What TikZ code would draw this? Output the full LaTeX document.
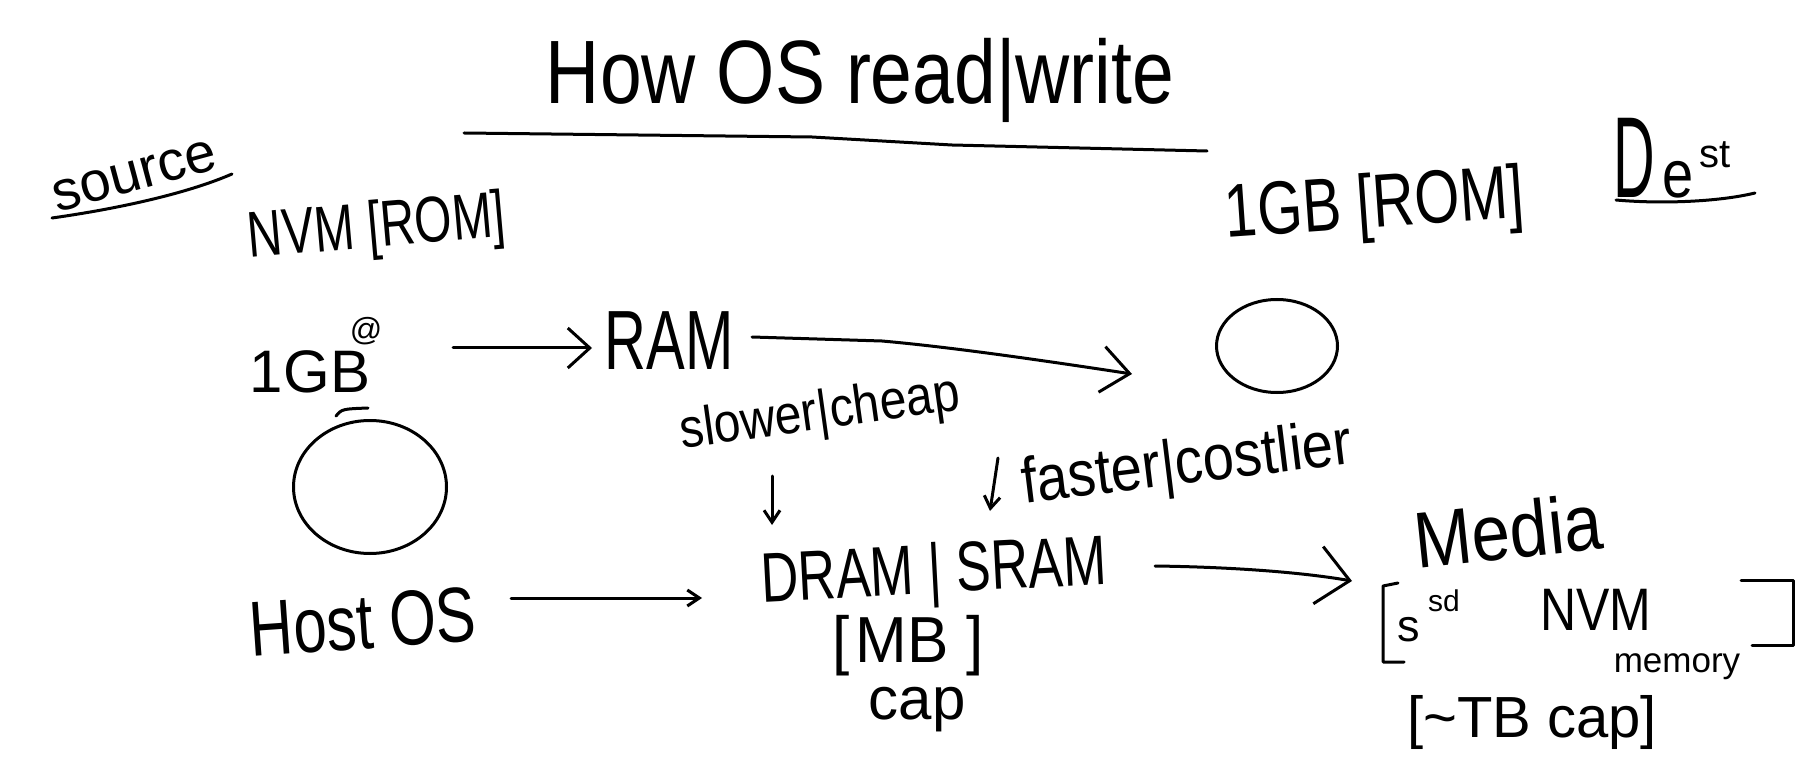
\documentclass[tikz,border=0pt]{standalone}
\usepackage{fontspec}
\usepackage{graphicx}
\setmainfont{Liberation Sans}
\usetikzlibrary{arrows.meta,shapes.geometric}
\newcommand\fsz[1]{\fontsize{#1}{#1}\selectfont}
\begin{document}
\begin{tikzpicture}[x=1pt,y=-1pt,
  hw/.style={inner sep=0pt,outer sep=0pt,font=\fsz{#1}},
  ln/.style={line width=3pt,line cap=round,line join=round},
  tipA/.style={-{Straight Barb[length=22pt,width=40pt]}},
  tipB/.style={-{Straight Barb[length=28pt,width=46pt]}},
  tipC/.style={-{Straight Barb[length=32pt,width=58pt]}},
  tipS/.style={-{Straight Barb[length=12pt,width=16pt]}},
  blob/.style={ellipse,draw,line width=3pt,inner sep=0pt}]
\useasboundingbox (0,0) rectangle (1820,775);
\fill[white] (0,0) rectangle (1820,775);

% title
\node[hw=75] (title) at (860,80) {\scalebox{1}[1.2]{How OS read|write}};
\coordinate (tu1) at (464,133);
\coordinate (tu2) at (1207,151);
\draw[ln] (tu1) -- (812,137) -- (952,145) -- (tu2);

% source
\node[hw=56,rotate=15] (source) at (135,176) {source};
\coordinate (su1) at (52,218);
\coordinate (su2) at (232,174);
\draw[ln] (su1) .. controls (116,209) and (186,194) .. (su2);
\node[hw=48,rotate=5] (nvmrom) at (377,230) {\scalebox{1}[1.35]{NVM [ROM]}};
\node[hw=60] (gb) at (310,372) {1GB};
\node[hw=32] (at) at (366,331) {@};
\node[blob,minimum width=153pt,minimum height=133pt] (src) at (370,487) {};
\draw[ln] (336,416) .. controls (342,409) .. (368,408);

% RAM
\node[hw=58] (ram) at (669,341) {\scalebox{1}[1.45]{RAM}};
\coordinate (a1s) at (453,348);
\coordinate (a1e) at (592,348);
\draw[ln,tipA] (a1s) -- (a1e);

% dest
\node[hw=58,rotate=4] (gbrom) at (1375,208) {\scalebox{1}[1.3]{1GB [ROM]}};
\node[hw=72] (dest) at (1672,158) {\scalebox{0.8}[1.6]{D}\hspace{8pt}\scalebox{1}[1.2]{\fsz{56}e}\hspace{6pt}\raisebox{30pt}{\fsz{40}st}};
\coordinate (du1) at (1616,200);
\coordinate (du2) at (1755,193);
\draw[ln] (du1) .. controls (1660,204) and (1718,202) .. (du2);
\node[blob,minimum width=121pt,minimum height=93pt] (dst) at (1277,346) {};
\coordinate (a2s) at (752,337);
\coordinate (a2e) at (1132,374);
\draw[ln,tipB] (a2s) -- (882,341) .. controls (950,347) and (1040,360) .. (a2e);

% labels
\node[hw=48,rotate=8] (slow) at (820,415) {\scalebox{1}[1.15]{slower|cheap}};
\node[hw=56,rotate=7] (fast) at (1187,467) {\scalebox{1}[1.15]{faster|costlier}};
\coordinate (d1s) at (772,476);
\coordinate (d1e) at (772,525);
\draw[ln,tipS] (d1s) -- (d1e);
\coordinate (d2s) at (998,458);
\coordinate (d2e) at (990,511);
\draw[ln,tipS] (d2s) -- (d2e);

% host
\node[hw=60,rotate=4] (host) at (363,622) {\scalebox{1}[1.3]{Host OS}};
\node[hw=52,rotate=3] (dram) at (934,575) {\scalebox{1}[1.35]{DRAM | SRAM}};
\node[hw=62] (mb) at (908,646) {\scalebox{1}[1.05]{[\hspace{6pt}MB\hspace{18pt}]}};
\node[hw=60] (cap) at (917,710) {cap};
\coordinate (a3s) at (511,598);
\coordinate (a3e) at (702,598);
\draw[ln,tipS] (a3s) -- (a3e);

% media
\node[hw=69,rotate=6] (media) at (1508,530) {\scalebox{1}[1.15]{Media}};
\coordinate (a4s) at (1155,566);
\coordinate (a4e) at (1352,581);
\draw[ln,tipC] (a4s) .. controls (1230,567) and (1300,572) .. (a4e);
\draw[ln] (1398,583) -- (1383,586) -- (1383,662) -- (1404,662);
\draw[ln] (1741,580) -- (1793,580) -- (1793,645) -- (1752,645);
\node[hw=45] (ssd) at (1409,630) {s};
\node[hw=30] (ssd2) at (1444,601) {sd};
\node[hw=50] (nvm) at (1596,610) {\scalebox{1}[1.2]{NVM}};
\node[hw=35] (memory) at (1677,667) {memory};
\node[hw=58] (tb) at (1532,722) {[\textasciitilde TB cap]};
\end{tikzpicture}
\end{document}
